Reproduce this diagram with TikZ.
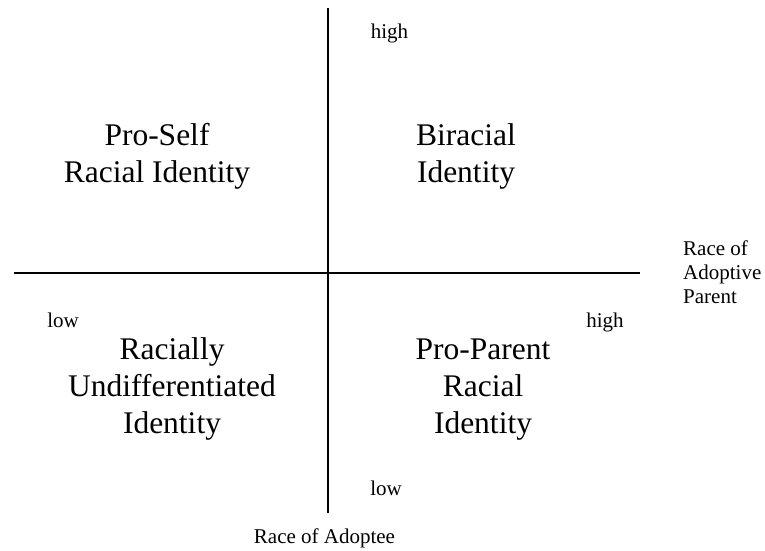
\documentclass[tikz,border=0pt]{standalone}
\usepackage{fontspec}
\setmainfont{Liberation Serif}
\begin{document}
\begin{tikzpicture}[x=1pt,y=-1pt,
  axis/.style={line width=1.8pt,black},
  quadrant/.style={inner sep=0pt,anchor=base,align=center,
    font=\fontsize{31.5}{37}\selectfont},
  tick/.style={inner sep=0pt,anchor=base,font=\fontsize{21}{24}\selectfont},
  axlabel/.style={inner sep=0pt,anchor=base west,align=left,
    font=\fontsize{21}{24}\selectfont}]
\useasboundingbox (0,0) rectangle (765,551);
% axes
\coordinate (vtop) at (328,8);
\coordinate (vbot) at (328,513);
\coordinate (hleft) at (14,273);
\coordinate (hright) at (640,273);
\draw[axis] (vtop) -- (vbot);
\draw[axis] (hleft) -- (hright);
% quadrant labels (positioned by the baseline of the last line)
\node[quadrant] (proself) at (157,182) {Pro-Self\\Racial Identity};
\node[quadrant] (biracial) at (466,182) {Biracial\\Identity};
\node[quadrant] (undiff) at (172,433) {Racially\\Undifferentiated\\Identity};
\node[quadrant] (proparent) at (483,433) {Pro-Parent\\Racial\\Identity};
% scale ends
\node[tick] (vhigh) at (389.5,38) {high};
\node[tick] (vlow) at (386,495) {low};
\node[tick] (hlow) at (63,327) {low};
\node[tick] (hhigh) at (605,327) {high};
% axis titles
\node[axlabel] (parent) at (683,303) {Race of\\Adoptive\\Parent};
\node[tick] (adoptee) at (324.5,543) {Race of Adoptee};
\end{tikzpicture}
\end{document}
